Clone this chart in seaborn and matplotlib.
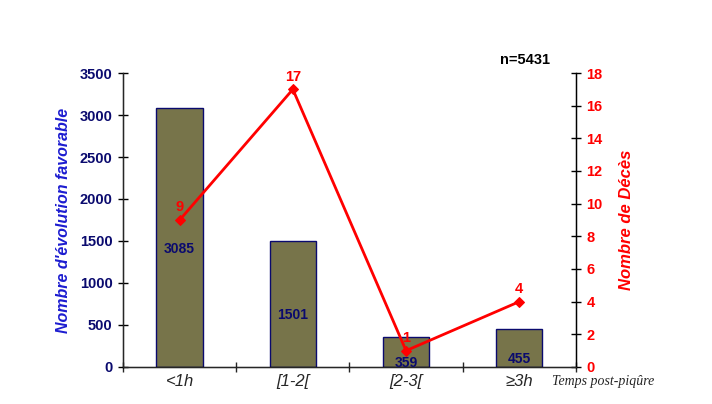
import numpy as np
import pandas as pd
import matplotlib
matplotlib.use("Agg")
import matplotlib.pyplot as plt
import seaborn as sns

# data
categories = ["<1h", "[1-2[", "[2-3[", "≥3h"]
favorable = [3085, 1501, 359, 455]
deces = [9, 17, 1, 4]

sns.set_style("white")
plt.rcParams["font.family"] = ["Liberation Sans", "DejaVu Sans"]

navy = "#0A0A6E"
red = "#FF0000"
olive = "#77744A"

fig = plt.figure(figsize=(7.12, 4.04), dpi=100)
ax = fig.add_axes([0.1728, 0.0916, 0.636, 0.7277])

df = pd.DataFrame({"cat": categories, "fav": favorable, "dec": deces})
sns.barplot(data=df, x="cat", y="fav", color=olive, width=0.41,
            saturation=1, edgecolor=navy, linewidth=1, ax=ax)

ax.set_ylim(0, 3500)
ax.set_xlim(-0.5, 3.5)
ax.set_yticks(np.arange(0, 3501, 500))
ax.tick_params(axis="y", direction="inout", length=7, width=1, colors="black",
               labelcolor=navy, labelsize=10.5, pad=4, left=True)
for t in ax.get_yticklabels():
    t.set_fontweight("bold")

# category boundaries as major ticks, names as minor ticks
ax.set_xticks([-0.5, 0.5, 1.5, 2.5, 3.5])
ax.set_xticklabels([])
ax.tick_params(axis="x", which="major", direction="inout", length=7, width=1,
               bottom=True)
ax.set_xticks(range(len(categories)), minor=True)
ax.set_xticklabels(categories, minor=True, fontstyle="italic", fontsize=12)
ax.tick_params(axis="x", which="minor", length=0, pad=5)
ax.set_xlabel("")
ax.set_ylabel("Nombre d'évolution favorable", color="#1C1CD0", fontsize=11.5,
              fontstyle="italic", fontweight="bold", labelpad=6)

ax.spines["top"].set_visible(False)
for sp in ["left", "bottom", "right"]:
    ax.spines[sp].set_color("black")
    ax.spines[sp].set_linewidth(1)

for i, v in enumerate(favorable):
    ax.annotate(str(v), (i, v / 2), xytext=(0, -3), textcoords="offset points",
                ha="center", va="top", color=navy, fontsize=10,
                fontweight="bold")

ax2 = ax.twinx()
sns.lineplot(x=list(range(len(categories))), y=deces, color=red, linewidth=2,
             marker="D", markersize=5, markeredgecolor=red, ax=ax2)
ax2.set_ylim(0, 18)
ax2.set_yticks(np.arange(0, 19, 2))
ax2.tick_params(axis="y", direction="inout", length=7, width=1, colors="black",
                labelcolor=red, labelsize=10.5, pad=4, right=True)
for t in ax2.get_yticklabels():
    t.set_fontweight("bold")
ax2.set_ylabel("Nombre de Décès", color=red, fontsize=12, fontstyle="italic",
               fontweight="bold", labelpad=12)
ax2.spines["top"].set_visible(False)
ax2.spines["right"].set_color("black")

for i, v in enumerate(deces):
    ax2.annotate(str(v), (i, v), xytext=(0, 4), textcoords="offset points",
                 ha="center", va="bottom", color=red, fontsize=10.5,
                 fontweight="bold")

fig.text(525 / 712, 1 - 60 / 404, "n=5431", ha="center", va="center",
         fontsize=10.5, fontweight="bold", color="black")
fig.text(552 / 712, 1 - 382 / 404, "Temps post-piqûre", ha="left", va="center",
         fontsize=10, fontstyle="italic", family=["Liberation Serif", "DejaVu Serif"])

fig.savefig("out.png", dpi=100)
